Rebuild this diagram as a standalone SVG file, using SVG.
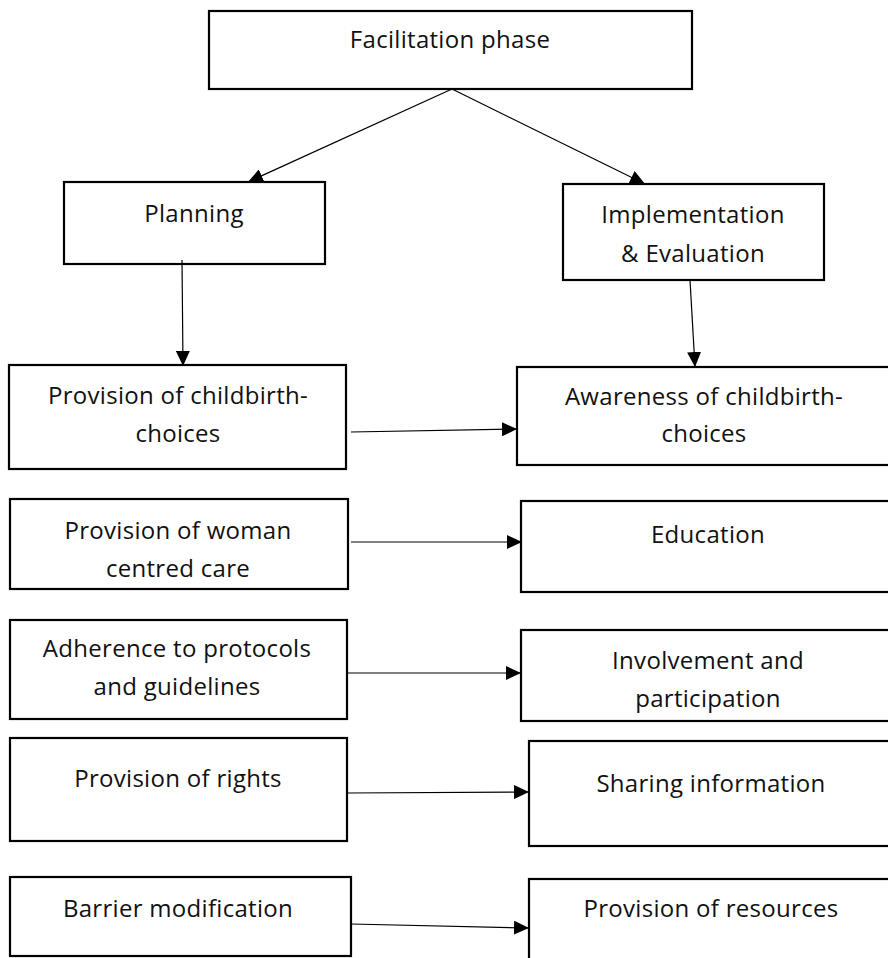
<svg xmlns="http://www.w3.org/2000/svg" width="888" height="958" viewBox="0 0 888 958">
  <style>
    .box { fill: #ffffff; stroke: #000000; stroke-width: 2.2; }
    .lbl { font-family: "Open Sans", "Liberation Sans", sans-serif; font-size: 24px; letter-spacing: 0.3px; fill: #111111; text-anchor: middle; }
    .edge { stroke: #000000; stroke-width: 1.2; fill: none; marker-end: url(#tip); }
  </style>
  <defs>
    <marker id="tip" markerUnits="userSpaceOnUse" markerWidth="16" markerHeight="14" refX="15" refY="7" orient="auto">
      <path d="M0,0 L15,7 L0,14 Z" fill="#000000"/>
    </marker>
  </defs>
  <rect width="888" height="958" fill="#ffffff"/>

  <g id="facilitation">
    <rect class="box" x="209" y="11" width="483" height="78"/>
    <text class="lbl" x="450" y="48">Facilitation phase</text>
  </g>
  <g id="planning">
    <rect class="box" x="64" y="182" width="261" height="82"/>
    <text class="lbl" x="194" y="222">Planning</text>
  </g>
  <g id="implementation">
    <rect class="box" x="563" y="184" width="261" height="96"/>
    <text class="lbl" x="693" y="223">Implementation</text>
    <text class="lbl" x="693" y="262">&amp; Evaluation</text>
  </g>

  <g id="provision-choices">
    <rect class="box" x="9" y="365" width="337" height="104"/>
    <text class="lbl" x="178" y="404">Provision of childbirth-</text>
    <text class="lbl" x="178" y="442">choices</text>
  </g>
  <g id="awareness">
    <rect class="box" x="517" y="367" width="380" height="98"/>
    <text class="lbl" x="704" y="405">Awareness of childbirth-</text>
    <text class="lbl" x="704" y="442">choices</text>
  </g>

  <g id="woman-centred">
    <rect class="box" x="10" y="499" width="338" height="90"/>
    <text class="lbl" x="178" y="539">Provision of woman</text>
    <text class="lbl" x="178" y="577">centred care</text>
  </g>
  <g id="education">
    <rect class="box" x="521" y="501" width="376" height="91"/>
    <text class="lbl" x="708" y="543">Education</text>
  </g>

  <g id="adherence">
    <rect class="box" x="10" y="620" width="337" height="99"/>
    <text class="lbl" x="177" y="657">Adherence to protocols</text>
    <text class="lbl" x="177" y="695">and guidelines</text>
  </g>
  <g id="involvement">
    <rect class="box" x="521" y="630" width="376" height="91"/>
    <text class="lbl" x="708" y="669">Involvement and</text>
    <text class="lbl" x="708" y="707">participation</text>
  </g>

  <g id="rights">
    <rect class="box" x="10" y="738" width="337" height="103"/>
    <text class="lbl" x="178" y="787">Provision of rights</text>
  </g>
  <g id="sharing">
    <rect class="box" x="529" y="741" width="368" height="105"/>
    <text class="lbl" x="711" y="792">Sharing information</text>
  </g>

  <g id="barrier">
    <rect class="box" x="10" y="877" width="341" height="79"/>
    <text class="lbl" x="178" y="917">Barrier modification</text>
  </g>
  <g id="resources">
    <rect class="box" x="529" y="879" width="368" height="90"/>
    <text class="lbl" x="711" y="917">Provision of resources</text>
  </g>

  <g id="connectors">
    <line class="edge" x1="452" y1="89" x2="248" y2="182"/>
    <line class="edge" x1="452" y1="89" x2="645" y2="184"/>
    <line class="edge" x1="182" y1="260" x2="183" y2="366"/>
    <line class="edge" x1="690" y1="280" x2="695" y2="367"/>
    <line class="edge" x1="351" y1="432" x2="517" y2="429"/>
    <line class="edge" x1="351" y1="542" x2="522" y2="542"/>
    <line class="edge" x1="347" y1="673" x2="521" y2="673"/>
    <line class="edge" x1="347" y1="793" x2="529" y2="792"/>
    <line class="edge" x1="351" y1="924" x2="529" y2="928"/>
  </g>
</svg>
